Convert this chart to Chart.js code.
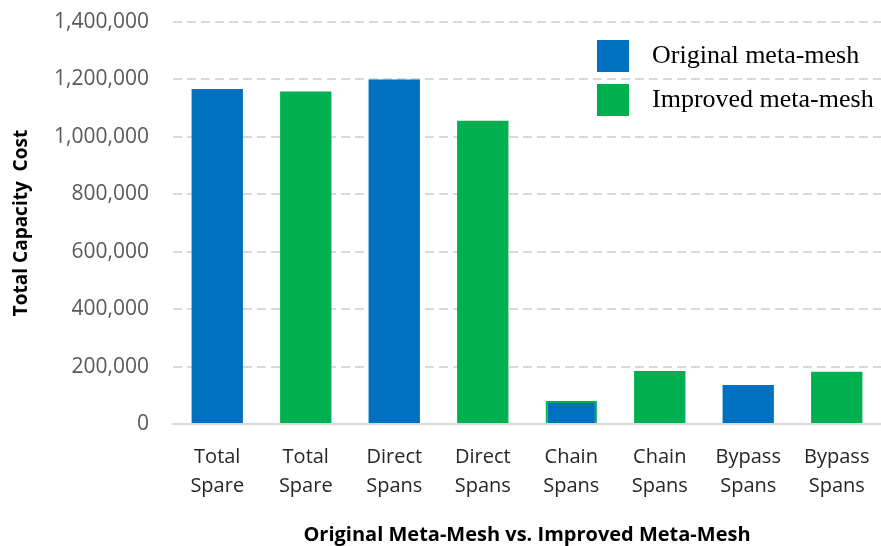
<!DOCTYPE html>
<html>
<head>
<meta charset="utf-8">
<script src="https://cdn.jsdelivr.net/npm/chart.js@4"></script>
<style>
  html, body { margin: 0; padding: 0; background: #fff; }
  #wrap { width: 881px; height: 546px; }
</style>
</head>
<body>
<div id="wrap"><canvas id="meta-mesh"></canvas></div>
<script>
const categories = [ ['Total', 'Spare'], ['Total', 'Spare'], ['Direct', 'Spans'], ['Direct', 'Spans'], ['Chain', 'Spans'], ['Chain', 'Spans'], ['Bypass', 'Spans'], ['Bypass', 'Spans'] ]
const originalCost = [ 1167000, null, 1200000, null, 80000, null, 136000, null ]
const improvedCost = [ null, 1158000, null, 1056000, null, 185000, null, 182000 ]
const seriesNames = [ 'Original meta-mesh', 'Improved meta-mesh' ]

const BLUE = '#0070C0'
const GREEN = '#00B050'
const GRID = '#d9d9d9'

// legend drawn inside the plot, top right, like the original figure
const boxLegend = {
  id: 'boxLegend',
  afterDraw(chart) {
    const ctx = chart.ctx
    const area = chart.chartArea
    const x = area.right - 284
    let y = area.top + 18
    ctx.save()
    ctx.font = '26px "Liberation Serif", "Times New Roman", serif'
    ctx.textBaseline = 'middle'
    chart.data.datasets.forEach((ds) => {
      ctx.fillStyle = ds.backgroundColor
      ctx.fillRect(x, y, 32, 32)
      ctx.fillStyle = '#000'
      ctx.fillText(ds.label, x + 55, y + 16)
      y += 44
    })
    ctx.restore()
  }
}

const ctx = document.getElementById('meta-mesh')

const config = {
  type: 'bar',
  data: {
    labels: categories,
    datasets: [
      {
        label: seriesNames[0],
        data: originalCost,
        backgroundColor: BLUE,
        borderColor: GREEN,
        borderWidth: (c) => c.dataIndex === 4 ? 2 : 0,
      },
      {
        label: seriesNames[1],
        data: improvedCost,
        backgroundColor: GREEN,
        borderWidth: 0,
      },
    ]
  },
  options: {
    responsive: true,
    maintainAspectRatio: false,
    animation: false,
    layout: { padding: { top: 22, right: 0, left: 0, bottom: 0 } },
    datasets: {
      bar: { grouped: false, categoryPercentage: 1, barPercentage: 0.58 }
    },
    plugins: {
      legend: { display: false },
      tooltip: { enabled: false },
    },
    scales: {
      x: {
        grid: { display: false },
        border: { display: true, color: GRID, width: 2 },
        ticks: {
          color: '#262626',
          padding: 11,
          maxRotation: 0,
          font: { family: 'Open Sans', size: 20, lineHeight: 1.45 },
        },
        title: {
          display: true,
          text: 'Original Meta-Mesh vs. Improved Meta-Mesh',
          color: '#000',
          padding: { top: 0, bottom: 0 },
          font: { family: 'Open Sans', size: 20, weight: 'bold', lineHeight: 1.05 },
        },
        afterFit(scale) { scale.height = 122 },
      },
      y: {
        min: 0,
        max: 1400000,
        ticks: {
          stepSize: 200000,
          color: '#595959',
          padding: 0,
          font: { family: 'Open Sans', size: 21 },
          callback: (v) => v.toLocaleString('en-US'),
        },
        // invisible tick marks give the gap between labels and plot
        grid: { color: GRID, lineWidth: 2, drawTicks: true, tickLength: 24, tickColor: 'rgba(0,0,0,0)' },
        border: { display: false, dash: [9, 5] },
        title: {
          display: true,
          text: 'Total Capacity  Cost',
          color: '#000',
          padding: { top: 10, bottom: 0 },
          font: { family: 'Open Sans', size: 19, weight: 'bold' },
        },
        afterFit(scale) { scale.width = 173 },
      }
    }
  },
  plugins: [ boxLegend ],
}

new Chart(ctx, config)
</script>
</body>
</html>
